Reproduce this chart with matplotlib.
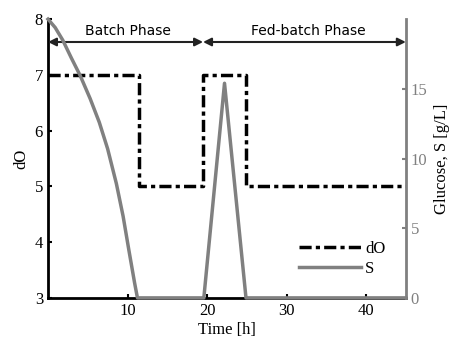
import numpy as np
import matplotlib.pyplot as plt

# dO setpoint profile (step changes)
t_do = [0, 11.5, 11.5, 19.5, 19.5, 24.9, 24.9, 45]
do_val = [7, 7, 5, 5, 7, 7, 5, 5]

# glucose concentration
t_s = [0, 0.9, 1.85, 2.95, 4.05, 5.3, 6.45, 7.5, 8.6, 9.45, 10.15, 10.9, 11.25,
       19.6, 22.2, 24.9, 45]
s_val = [20, 19.4, 18.5, 17.2, 15.95, 14.3, 12.6, 10.7, 8.2, 5.85, 3.5, 1.05, 0,
         0, 15.4, 0, 0]

serif = 'Liberation Serif'
grey = '#808080'

fig = plt.figure(figsize=(4.57, 3.48), dpi=100)
ax = fig.add_axes([0.105, 0.144, 0.783, 0.801])
ax2 = ax.twinx()

l1, = ax.plot(t_do, do_val, color='black', lw=2.5, dashes=[3.5, 1.2, 1.2, 1.2],
              solid_joinstyle='miter', zorder=3)
l2, = ax2.plot(t_s, s_val, color=grey, lw=2.5, zorder=2, clip_on=False)

ax.set_xlim(0, 45)
ax.set_ylim(3, 8)
ax2.set_ylim(0, 20)
ax.set_xticks([10, 20, 30, 40])
ax.set_yticks([3, 4, 5, 6, 7, 8])
ax2.set_yticks([0, 5, 10, 15])

ax.tick_params(direction='in', length=3, width=1.5, labelsize=12)
ax2.tick_params(direction='in', length=3, width=1.5, labelsize=12, colors=grey)
for lab in ax.get_xticklabels() + ax.get_yticklabels() + ax2.get_yticklabels():
    lab.set_fontfamily(serif)

ax.spines['top'].set_visible(False)
ax2.spines['top'].set_visible(False)
ax.spines['left'].set_linewidth(2)
ax.spines['bottom'].set_linewidth(2)
ax.spines['right'].set_visible(False)
ax2.spines['left'].set_visible(False)
ax2.spines['bottom'].set_visible(False)
ax2.spines['right'].set_color(grey)
ax2.spines['right'].set_linewidth(2)

ax.set_xlabel('Time [h]', fontfamily=serif, fontsize=12, labelpad=2)
ax.set_ylabel('dO', fontfamily=serif, fontsize=12, labelpad=4)
ax2.set_ylabel('Glucose, S [g/L]', fontfamily=serif, fontsize=12, labelpad=5)

# phase arrows
arrow_y = 7.59
for x0, x1 in [(0, 19.5), (19.5, 45)]:
    ax.annotate('', xy=(x0, arrow_y), xytext=(x1, arrow_y),
                arrowprops=dict(arrowstyle='<|-|>', color='#222222', lw=1.5,
                                mutation_scale=12, shrinkA=0, shrinkB=0))
ax.text(10, 7.79, 'Batch Phase', ha='center', va='center', fontsize=10, family='DejaVu Sans')
ax.text(32.8, 7.79, 'Fed-batch Phase', ha='center', va='center', fontsize=10, family='DejaVu Sans')

leg = ax2.legend([l1, l2], ['dO', 'S'], loc='lower right', bbox_to_anchor=(0.985, 0.02),
                 frameon=False, prop={'family': serif, 'size': 12},
                 handlelength=3.7, handletextpad=0.25, labelspacing=0.25)

fig.savefig('out.png', dpi=100)
